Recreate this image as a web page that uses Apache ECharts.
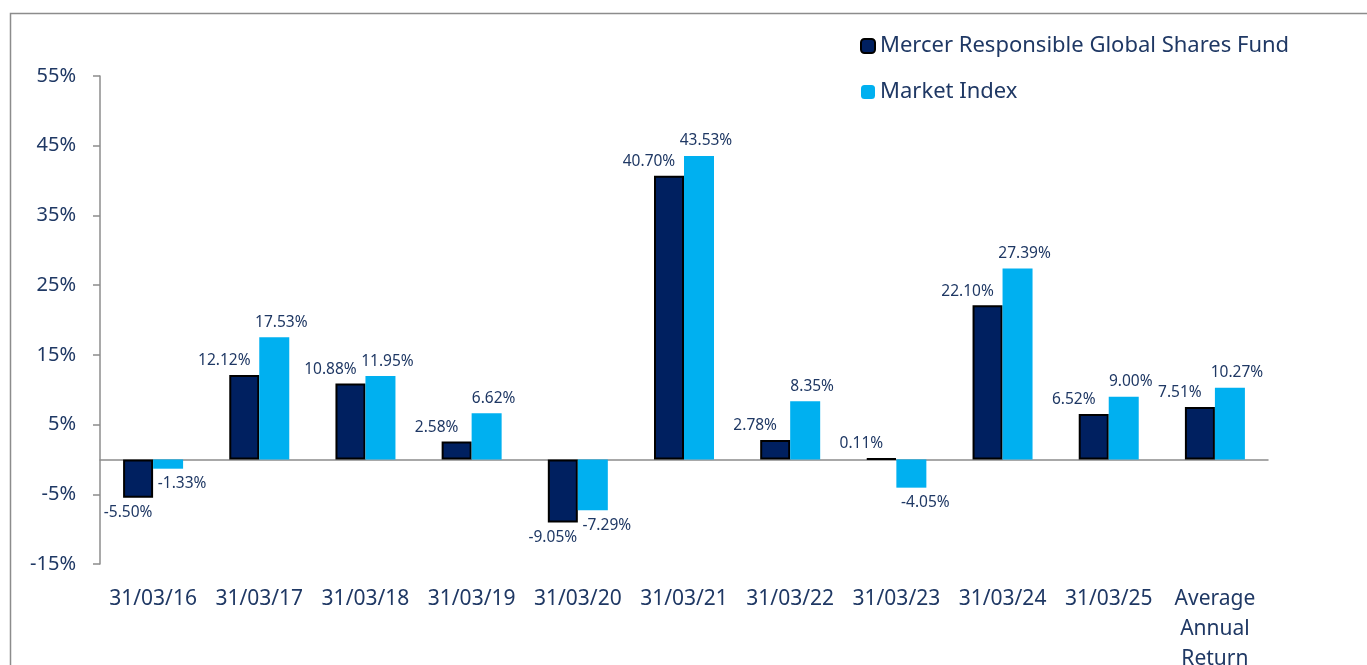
<!DOCTYPE html>
<html>
<head>
<meta charset="utf-8">
<script src="https://cdn.jsdelivr.net/npm/echarts@6/dist/echarts.min.js"></script>
<style>
html,body{margin:0;padding:0;background:#fff;}
#chart{width:1367px;height:665px;}
</style>
</head>
<body>
<div id="chart"></div>
<script>
var categories = ['31/03/16','31/03/17','31/03/18','31/03/19','31/03/20','31/03/21','31/03/22','31/03/23','31/03/24','31/03/25','Average\nAnnual\nReturn'];
var fundName = 'Mercer Responsible Global Shares Fund';
var indexName = 'Market Index';
var fundValues = [-5.50, 12.12, 10.88, 2.58, -9.05, 40.70, 2.78, 0.11, 22.10, 6.52, 7.51];
var indexValues = [-1.33, 17.53, 11.95, 6.62, -7.29, 43.53, 8.35, -4.05, 27.39, 9.00, 10.27];
var yTicks = [-15, -5, 5, 15, 25, 35, 45, 55];

var TXT = '#1F3864';
var FONT = '"Noto Sans", "Open Sans", sans-serif';

function mkData(vals, isFund) {
  return vals.map(function (v) {
    var neg = v < 0;
    var lab;
    if (isFund) {
      lab = neg ? {position: 'bottom', offset: [-10, 2]} : {position: 'top', offset: [-20, -1]};
    } else {
      lab = neg ? {position: 'bottom', offset: [14, 2]} : {position: 'top', offset: [7, -2]};
    }
    return {value: v, label: lab};
  });
}

var chart = echarts.init(document.getElementById('chart'));
chart.setOption({
  backgroundColor: '#ffffff',
  textStyle: {fontFamily: FONT},
  animation: false,
  graphic: [{
    type: 'rect',
    left: 8, top: 11,
    shape: {width: 1420, height: 700},
    style: {fill: 'none', stroke: '#8c8c8c', lineWidth: 1.5},
    silent: true
  }],
  legend: {
    orient: 'vertical',
    left: 860, top: 35,
    padding: 0,
    itemWidth: 14, itemHeight: 14,
    itemGap: 24,
    textStyle: {color: TXT, fontSize: 22, fontFamily: FONT},
    data: [fundName, indexName]
  },
  grid: {left: 100, right: 99, top: 76, bottom: 101, containLabel: false, outerBoundsMode: 'none'},
  xAxis: [{
    type: 'category',
    data: categories,
    position: 'top',
    axisLine: {show: true, onZero: true, lineStyle: {color: '#8c8c8c', width: 1.5}},
    axisTick: {show: false},
    axisLabel: {show: false},
    splitLine: {show: false}
  }, {
    type: 'category',
    data: categories,
    position: 'bottom',
    axisLine: {show: false, onZero: false},
    axisTick: {show: false},
    axisLabel: {color: TXT, fontSize: 21, lineHeight: 30, margin: 20, fontFamily: FONT, interval: 0},
    splitLine: {show: false}
  }],
  yAxis: {
    type: 'value',
    min: -15, max: 55,
    axisLine: {show: true, lineStyle: {color: '#8c8c8c', width: 1.5}},
    axisTick: {show: true, length: 7, customValues: yTicks, lineStyle: {color: '#8c8c8c', width: 1.5}},
    axisLabel: {color: TXT, fontSize: 20, margin: 24, fontFamily: FONT, customValues: yTicks,
      formatter: function (v) { return v + '%'; }},
    splitLine: {show: false}
  },
  series: [{
    name: fundName,
    type: 'bar',
    xAxisIndex: 0,
    barWidth: 30,
    barGap: '0%',
    itemStyle: {color: '#002060', borderColor: '#000000', borderWidth: 2},
    label: {show: true, color: TXT, fontSize: 15.5, fontFamily: FONT, distance: 5,
      formatter: function (p) { return p.value.toFixed(2) + '%'; }},
    data: mkData(fundValues, true)
  }, {
    name: indexName,
    type: 'bar',
    xAxisIndex: 0,
    barWidth: 30,
    barGap: '0%',
    itemStyle: {color: '#00B0F0'},
    label: {show: true, color: TXT, fontSize: 15.5, fontFamily: FONT, distance: 5,
      formatter: function (p) { return p.value.toFixed(2) + '%'; }},
    data: mkData(indexValues, false)
  }]
});
</script>
</body>
</html>
